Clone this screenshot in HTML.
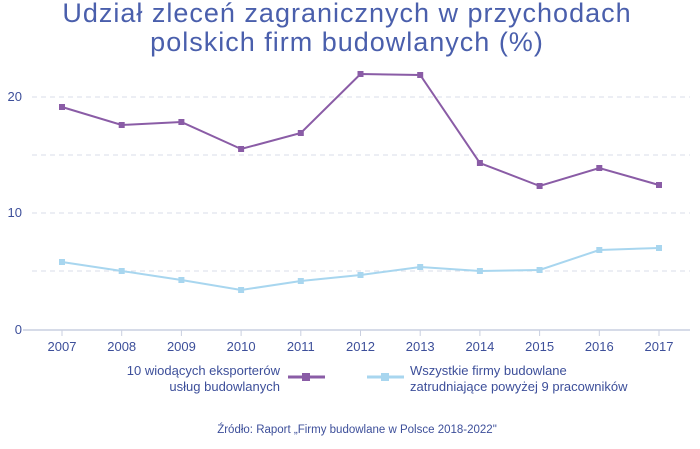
<!DOCTYPE html>
<html><head><meta charset="utf-8"><style>
body{margin:0;background:#fff}
svg text{font-family:"Liberation Sans",sans-serif;fill:#3d4f9a}
</style></head><body>
<svg width="700" height="444" xmlns="http://www.w3.org/2000/svg">
<text x="347" y="22" text-anchor="middle" font-size="27" letter-spacing="1" style="fill:#4a5fac">Udział zleceń zagranicznych w przychodach</text>
<text x="347" y="51" text-anchor="middle" font-size="27" letter-spacing="1" style="fill:#4a5fac">polskich firm budowlanych (%)</text>
<g stroke="#d9dde8" stroke-dasharray="5,4" stroke-width="1">
<line x1="32" x2="690" y1="97" y2="97"/><line x1="32" x2="690" y1="155" y2="155"/>
<line x1="32" x2="690" y1="213" y2="213"/><line x1="32" x2="690" y1="271" y2="271"/>
</g>
<line x1="23" x2="690" y1="330" y2="330" stroke="#c9cfe0" stroke-width="1.5"/>
<g stroke="#c9cfe0"><line x1="62" x2="62" y1="330" y2="336"/><line x1="121.7" x2="121.7" y1="330" y2="336"/><line x1="181.4" x2="181.4" y1="330" y2="336"/><line x1="241.1" x2="241.1" y1="330" y2="336"/><line x1="300.8" x2="300.8" y1="330" y2="336"/><line x1="360.5" x2="360.5" y1="330" y2="336"/><line x1="420.2" x2="420.2" y1="330" y2="336"/><line x1="479.9" x2="479.9" y1="330" y2="336"/><line x1="539.6" x2="539.6" y1="330" y2="336"/><line x1="599.3" x2="599.3" y1="330" y2="336"/><line x1="659" x2="659" y1="330" y2="336"/></g>
<g font-size="13" text-anchor="end"><text x="22" y="101">20</text><text x="22" y="217">10</text><text x="22" y="334">0</text></g>
<g font-size="13" text-anchor="middle">
<text x="62" y="351">2007</text><text x="121.7" y="351">2008</text><text x="181.4" y="351">2009</text><text x="241.1" y="351">2010</text><text x="300.8" y="351">2011</text><text x="360.5" y="351">2012</text><text x="420.2" y="351">2013</text><text x="479.9" y="351">2014</text><text x="539.6" y="351">2015</text><text x="599.3" y="351">2016</text><text x="659" y="351">2017</text></g>
<polyline fill="none" stroke="#8a5ca6" stroke-width="2" points="62,107 121.7,125 181.4,122 241.1,149 300.8,133 360.5,74 420.2,75 479.9,163 539.6,186 599.3,168 659,185"/>
<g fill="#8a5ca6"><rect x="59" y="104" width="6" height="6"/><rect x="118.7" y="122" width="6" height="6"/><rect x="178.4" y="119" width="6" height="6"/><rect x="238.1" y="146" width="6" height="6"/><rect x="297.8" y="130" width="6" height="6"/><rect x="357.5" y="71" width="6" height="6"/><rect x="417.2" y="72" width="6" height="6"/><rect x="476.9" y="160" width="6" height="6"/><rect x="536.6" y="183" width="6" height="6"/><rect x="596.3" y="165" width="6" height="6"/><rect x="656" y="182" width="6" height="6"/></g>
<polyline fill="none" stroke="#a8d6ef" stroke-width="2" points="62,262 121.7,271 181.4,280 241.1,290 300.8,281 360.5,275 420.2,267 479.9,271 539.6,270 599.3,250 659,248"/>
<g fill="#a8d6ef"><rect x="59" y="259" width="6" height="6"/><rect x="118.7" y="268" width="6" height="6"/><rect x="178.4" y="277" width="6" height="6"/><rect x="238.1" y="287" width="6" height="6"/><rect x="297.8" y="278" width="6" height="6"/><rect x="357.5" y="272" width="6" height="6"/><rect x="417.2" y="264" width="6" height="6"/><rect x="476.9" y="268" width="6" height="6"/><rect x="536.6" y="267" width="6" height="6"/><rect x="596.3" y="247" width="6" height="6"/><rect x="656" y="245" width="6" height="6"/></g>
<g font-size="13"><text x="280" y="375" text-anchor="end">10 wiodących eksporterów</text><text x="280" y="391" text-anchor="end">usług budowlanych</text>
<text x="410" y="375">Wszystkie firmy budowlane</text><text x="410" y="391">zatrudniające powyżej 9 pracowników</text></g>
<line x1="288" x2="325" y1="377" y2="377" stroke="#8a5ca6" stroke-width="3"/><rect x="302" y="373" width="8" height="8" fill="#8a5ca6"/>
<line x1="367" x2="404" y1="377" y2="377" stroke="#a8d6ef" stroke-width="3"/><rect x="381" y="373" width="8" height="8" fill="#a8d6ef"/>
<text x="357" y="433" text-anchor="middle" font-size="11.5">Źródło: Raport „Firmy budowlane w Polsce 2018-2022"</text>
</svg>
</body></html>
